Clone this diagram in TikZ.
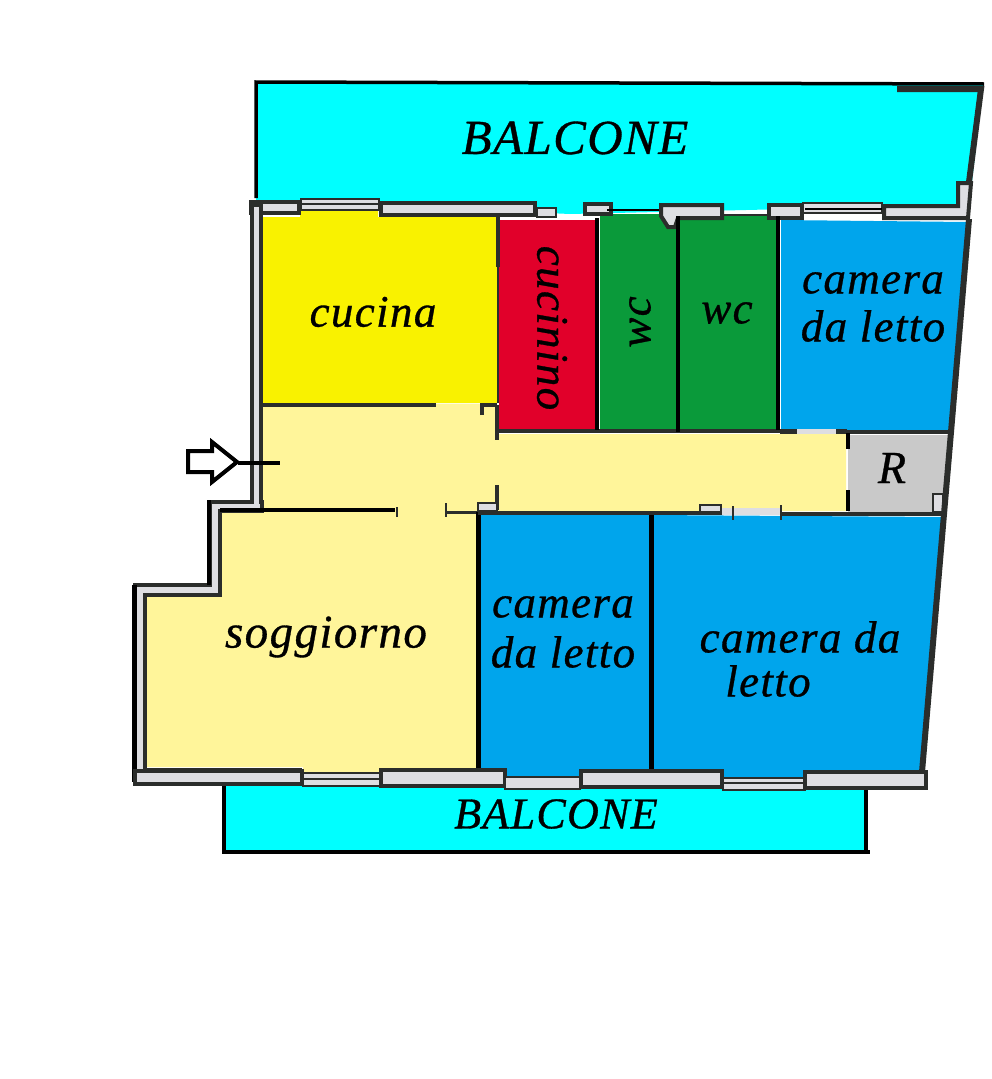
\documentclass[tikz,border=0pt]{standalone}
\usepackage{fontspec}
\setmainfont{Liberation Serif}
\newfontfamily\planfont[FakeBold=0.7,LetterSpace=3]{Liberation Serif Italic}
\definecolor{cyanb}{HTML}{00FFFF}
\definecolor{yel}{HTML}{F9F200}
\definecolor{red1}{HTML}{E1002A}
\definecolor{grn}{HTML}{0A9A3A}
\definecolor{blu}{HTML}{00A5EC}
\definecolor{pale}{HTML}{FFF59A}
\definecolor{gry}{HTML}{C9C9C9}
\definecolor{wallfill}{HTML}{DEDEE2}
\definecolor{walldark}{HTML}{2B2D2B}
\tikzset{
  room/.style={fill=#1,draw=none},
  wall/.style={fill=wallfill,draw=walldark,line width=4pt,line join=miter},
  thinwall/.style={fill=wallfill,draw=walldark,line width=2.2pt},
  dark/.style={draw=walldark,line width=3.5pt},
  heavy/.style={draw=black,line width=5pt},
  outline/.style={draw=black,line width=3.5pt},
  lab/.style={font=\planfont\fontsize{#1}{#1}\selectfont,inner sep=0pt,text=black,align=center},
}
\begin{document}
\begin{tikzpicture}[x=1pt,y=-1pt]
\useasboundingbox (0,0) rectangle (992,1079);
\fill[white] (0,0) rectangle (992,1079);
% balconies
\fill[cyanb] (256,83) -- (983,85) -- (972,182) -- (966,205) -- (570,214) -- (256,200) -- cycle;
\draw[outline] (256,198) -- (256,82) -- (984,84);
\draw[line width=6pt,walldark] (897,89) -- (981,89) -- (969,182);
\fill[cyanb] (224,783) -- (866,788) -- (866,852) -- (224,852) -- cycle;
\draw[outline] (224,784) -- (224,852) -- (870,852);
\draw[outline] (866,790) -- (866,852);
% rooms
\fill[room=yel] (263,217) -- (300,217) -- (300,211) -- (378,211) -- (378,217) -- (497,217) -- (497,403) -- (263,403) -- cycle;
\fill[room=red1] (499,220) -- (595,220) -- (595,429) -- (499,429) -- cycle;
\fill[room=grn] (600,214) -- (676,214) -- (676,432) -- (600,432) -- cycle;
\fill[room=grn] (680,216) -- (777,216) -- (777,432) -- (680,432) -- cycle;
\fill[room=blu] (781,220) -- (967,222) -- (950,430) -- (781,430) -- cycle;
\fill[room=pale] (262,404) -- (497,404) -- (497,434) -- (846,434) -- (846,511) -- (497,511) -- (497,514) -- (262,514) -- cycle;
\fill[room=gry] (848,435) -- (950,435) -- (943,512) -- (848,512) -- cycle;
\fill[room=pale] (220,510) -- (476,510) -- (476,768) -- (380,768) -- (380,773) -- (303,773) -- (303,767) -- (145,767) -- (145,595) -- (220,595) -- cycle;
\fill[room=blu] (480,514) -- (650,514) -- (650,770) -- (580,770) -- (580,777) -- (505,777) -- (505,770) -- (480,770) -- cycle;
\fill[room=blu] (652,515) -- (942,517) -- (921,771) -- (805,771) -- (805,777) -- (723,777) -- (723,771) -- (652,771) -- cycle;
% top walls
\draw[wall] (251,202) rectangle (299,213);
\draw[thinwall] (301,199) rectangle (379,210);
\draw[dark,line width=2pt] (301,204) -- (379,204);
\draw[wall] (381,203) rectangle (535,215);
\draw[thinwall] (537,208) rectangle (556,217);
\draw[wall] (585,204) rectangle (611,214);
\draw[line width=2.5pt,black] (607,210) -- (662,210);
\draw[wall] (661,205) -- (722,205) -- (722,218) -- (678,218) -- (675,227) -- (668,227) -- (661,216) -- cycle;
\draw[dark,line width=2.5pt] (723,215) -- (767,215);
\draw[wall] (769,205) rectangle (802,218);
\draw[thinwall] (803,203) rectangle (882,213);
\draw[line width=2.5pt,black] (805,209) -- (883,209);
\draw[wall] (884,206) -- (958,206) -- (958,183) -- (971,183) -- (968,218) -- (884,218) -- cycle;
% left walls
\draw[wall] (252,205) rectangle (261,502);
\draw[wall] (262,502) -- (210,502) -- (210,585) -- (135,585) -- (135,782) -- (300,782) -- (300,770) -- (145,770) -- (145,595) -- (220,595) -- (220,511) -- (262,511) -- cycle;
\fill[wallfill] (254,498) rectangle (259,509);
\draw[line width=4pt,black] (209,500) -- (209,585);
\draw[line width=5pt,black] (134,585) -- (134,782);
% interior
\draw[dark] (262,405) -- (436,405);
\draw[dark] (482,415) -- (482,405) -- (497,405);
\draw[dark] (498,216) -- (498,267);
\draw[dark,line width=2pt] (498,267) -- (498,403);
\draw[dark] (497,405) -- (497,440);
\draw[dark] (497,485) -- (497,510);
\draw[thinwall] (478,503) rectangle (497,511);
\draw[line width=3.5pt,walldark] (498,431) -- (847,431);
\draw[line width=3.5pt,black] (597,218) -- (597,430);
\draw[line width=4pt,black] (678,216) -- (678,432);
\draw[line width=4pt,black] (778,216) -- (778,430);
\draw[line width=4pt,walldark] (780,432) -- (950,432);
\draw[line width=4pt,black] (848,433) -- (848,449);
\draw[line width=4pt,black] (848,490) -- (848,511);
\fill[wallfill] (797,429) rectangle (836,434);
\draw[heavy,line width=4pt] (220,510) -- (395,510);
\draw[dark,line width=2.5pt] (397,507) -- (397,517);
\draw[dark,line width=2.5pt] (446,503) -- (446,517);
\draw[dark,line width=3pt] (446,512) -- (478,512);
\draw[heavy] (478,512) -- (478,772);
\draw[heavy] (651,514) -- (651,772);
\draw[line width=3.5pt,walldark] (478,513) -- (722,513);
\draw[line width=3.5pt,walldark] (780,514) -- (945,514);
\draw[thinwall] (700,505) rectangle (721,512);
\fill[wallfill] (722,508) rectangle (780,515);
\draw[dark,line width=2.5pt] (733,506) -- (733,520);
\draw[dark,line width=2.5pt] (781,505) -- (781,520);
\draw[thinwall] (933,494) -- (943,494) -- (943,512) -- (933,512) -- cycle;
% right wall
\draw[line width=6pt,walldark] (969,219) -- (951,432) -- (944,514) -- (922,772);
% bottom walls
\draw[wall] (135,771) -- (302,771) -- (302,784) -- (135,784) -- cycle;
\draw[thinwall] (303,773) rectangle (380,786);
\draw[dark,line width=1.5pt] (303,779) -- (380,779);
\draw[wall] (381,770) rectangle (505,786);
\draw[thinwall] (505,777) rectangle (580,789);
\draw[wall] (581,771) rectangle (722,787);
\draw[thinwall] (723,778) rectangle (805,790);
\draw[dark,line width=1.5pt] (723,783) -- (805,783);
\draw[wall] (805,772) rectangle (926,788);
% entrance arrow
\coordinate (tipa) at (237,462);
\coordinate (linee) at (280,463);
\draw[outline,line width=4pt,line join=miter,fill=white] (188,451) -- (212,451) -- (212,442) -- (tipa) -- (212,482) -- (212,472) -- (188,472) -- cycle;
\draw[line width=3.5pt,black] (tipa) ++(1,1) -- (linee);
% labels
\node[lab=49] (b1) at (575,138) {BALCONE};
\node[lab=44] (b2) at (556,814) {BALCONE};
\node[lab=45] (cuc) at (373,312) {cucina};
\node[lab=45,rotate=-90] (cucn) at (552,328) {cucinino};
\node[lab=45,rotate=90] (wc1) at (640,322) {wc};
\node[lab=45] (wc2) at (727,313) {wc};
\node[lab=45] (c1a) at (873,283) {camera};
\node[lab=45] (c1b) at (873,326) {da letto};
\node[lab=45] (c2a) at (563,607) {camera};
\node[lab=45] (c2b) at (563,652) {da letto};
\node[lab=45] (c3a) at (800,637) {camera da};
\node[lab=45] (c3b) at (768,681) {letto};
\node[lab=47] (sog) at (326,637) {soggiorno};
\node[lab=46] (rr) at (892,468) {R};
\end{tikzpicture}
\end{document}
